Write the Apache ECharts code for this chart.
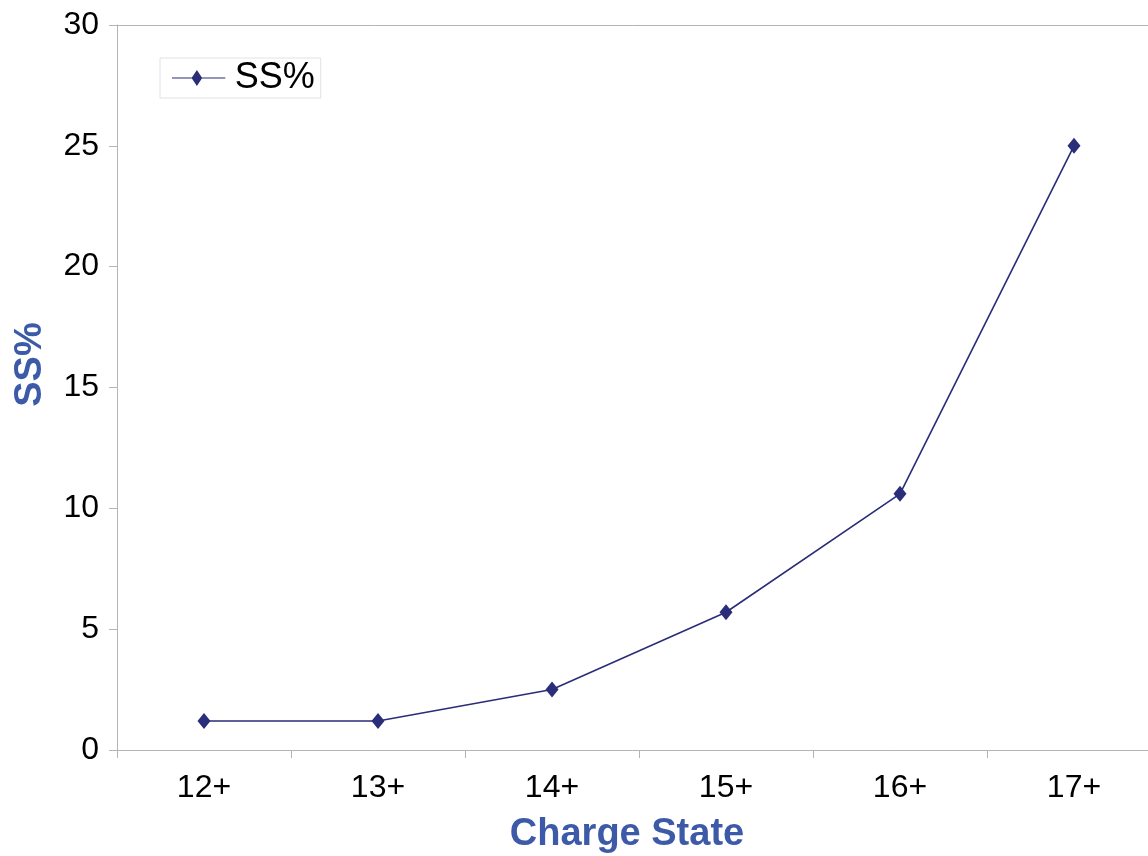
<!DOCTYPE html>
<html>
<head>
<meta charset="utf-8">
<script src="https://cdn.jsdelivr.net/npm/echarts@6/dist/echarts.min.js"></script>
<style>
  html, body { margin: 0; padding: 0; background: #fff; }
  #chart { width: 1148px; height: 856px; }
</style>
</head>
<body>
<div id="chart"></div>
<script>
// charge states and SS%
const categories = ['12+', '13+', '14+', '15+', '16+', '17+'];
const ssValues = [1.2, 1.2, 2.5, 5.7, 10.6, 25.0];

const chart = echarts.init(document.getElementById('chart'));
const axisGray = '#b4b4b4';
const titleBlue = '#3c5aa8';
const lineColor = '#2a2d78';
// legend icon: thin line with a diamond on it
const legendIcon = 'path://M0,8.3 L60,8.3 L60,9.7 L0,9.7 Z M22,9 L28,0 L34,9 L28,18 Z';

chart.setOption({
  animation: false,
  grid: { left: 117, top: 25, width: 1044, height: 725, outerBoundsMode: 'none' },
  legend: {
    data: [{ name: 'SS%', icon: legendIcon }],
    left: 160,
    top: 58,
    itemWidth: 54,
    itemHeight: 16,
    itemGap: 0,
    padding: [2, 6, 2, 12],
    borderColor: '#e2e2e2',
    borderWidth: 1,
    textStyle: { fontFamily: 'Liberation Sans', fontSize: 36, color: '#000', padding: [0, 0, 0, 4] }
  },
  xAxis: [{
    type: 'category',
    data: categories,
    boundaryGap: true,
    name: 'Charge State',
    nameLocation: 'middle',
    nameGap: 66,
    nameTextStyle: {
      fontFamily: 'Liberation Sans', fontSize: 38, fontWeight: 'bold', color: titleBlue,
      padding: [0, 24, 0, 0]
    },
    axisLine: { lineStyle: { color: axisGray, width: 1 } },
    axisTick: { show: true, length: 8, lineStyle: { color: axisGray } },
    axisLabel: { margin: 22, fontFamily: 'Liberation Sans', fontSize: 32, color: '#000' }
  }, {
    type: 'category',
    data: categories,
    position: 'top',
    axisLine: { lineStyle: { color: axisGray, width: 1 } },
    axisTick: { show: false },
    axisLabel: { show: false }
  }],
  yAxis: {
    type: 'value',
    min: 0,
    max: 30,
    interval: 5,
    name: 'SS%',
    nameLocation: 'middle',
    nameGap: 67,
    nameTextStyle: {
      fontFamily: 'Liberation Sans', fontSize: 38, fontWeight: 'bold', color: titleBlue,
      padding: [0, 0, 0, 46]
    },
    axisLine: { show: true, lineStyle: { color: axisGray, width: 1 } },
    axisTick: { show: true, length: 8, lineStyle: { color: axisGray } },
    splitLine: { show: false },
    axisLabel: { margin: 18, fontFamily: 'Liberation Sans', fontSize: 32, color: '#000' }
  },
  series: [{
    name: 'SS%',
    type: 'line',
    data: ssValues,
    symbol: 'diamond',
    symbolSize: [13, 16],
    lineStyle: { color: lineColor, width: 1.6 },
    itemStyle: { color: lineColor }
  }]
});
</script>
</body>
</html>
